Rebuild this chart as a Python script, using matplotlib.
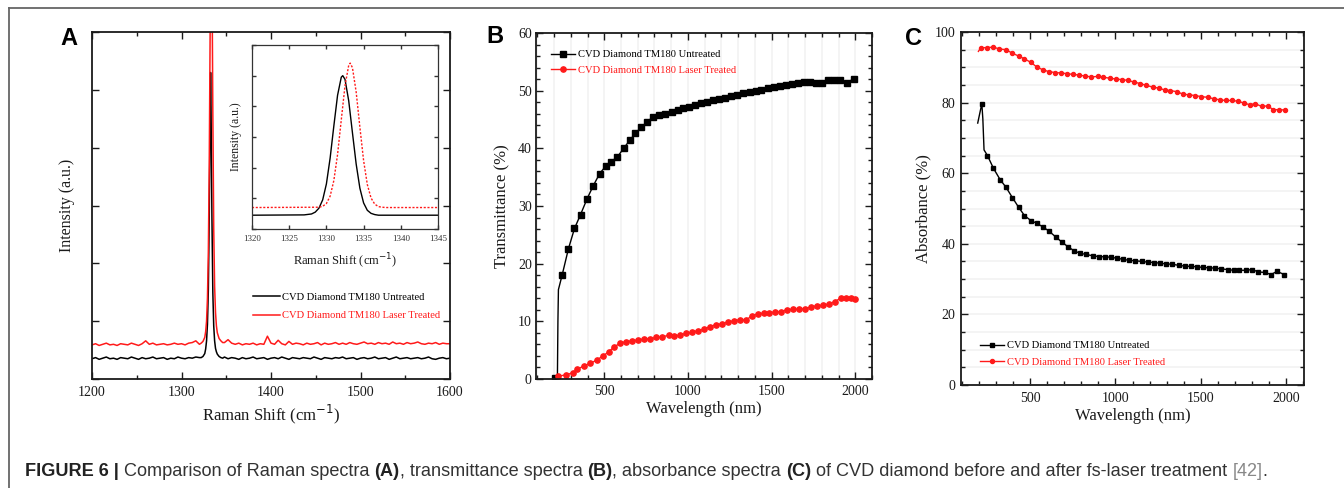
import matplotlib.pyplot as plt
import numpy as np
from matplotlib.lines import Line2D
from matplotlib.ticker import MultipleLocator, NullFormatter

W, H = 1344, 488
SERIF = 'Liberation Serif'
INK = '#1a1a1a'
RED = '#ff1a1a'

# ---------------- panel A: Raman spectra ----------------
raman_grid = np.arange(1200, 1601, 4)
raman_base_untreated = [
    0.35, 0.37, 0.34, 0.36, 0.38, 0.35, 0.36, 0.34, 0.37, 0.36,
    0.35, 0.38, 0.36, 0.34, 0.37, 0.35, 0.36, 0.38, 0.35, 0.36,
    0.37, 0.34, 0.36, 0.35, 0.38, 0.36, 0.35, 0.37, 0.36, 0.38,
    0.37, 0.36, 0.36, 0.37, 0.36, 0.36, 0.37, 0.38, 0.35, 0.37,
    0.36, 0.34, 0.37, 0.35, 0.36, 0.38, 0.35, 0.36, 0.37, 0.34,
    0.36, 0.37, 0.35, 0.38, 0.36, 0.34, 0.37, 0.36, 0.35, 0.37,
    0.36, 0.35, 0.38, 0.36, 0.34, 0.37, 0.36, 0.35, 0.37, 0.36,
    0.38, 0.35, 0.36, 0.37, 0.34, 0.36, 0.37, 0.35, 0.36, 0.38,
    0.35, 0.36, 0.37, 0.34, 0.36, 0.38, 0.35, 0.36, 0.37, 0.35,
    0.36, 0.37, 0.35, 0.36, 0.38, 0.35, 0.34, 0.36, 0.37, 0.35,
    0.36]
raman_base_treated = [
    0.59, 0.61, 0.58, 0.60, 0.62, 0.59, 0.60, 0.58, 0.61, 0.60,
    0.59, 0.62, 0.60, 0.58, 0.61, 0.66, 0.60, 0.62, 0.59, 0.60,
    0.61, 0.59, 0.60, 0.62, 0.60, 0.61, 0.59, 0.62, 0.63, 0.66,
    0.60, 0.60, 0.60, 0.60, 0.60, 0.60, 0.60, 0.63, 0.68, 0.62,
    0.60, 0.62, 0.59, 0.61, 0.60, 0.62, 0.59, 0.61, 0.60, 0.74,
    0.62, 0.60, 0.67, 0.61, 0.59, 0.65, 0.60, 0.62, 0.61, 0.59,
    0.62, 0.60, 0.61, 0.63, 0.59, 0.62, 0.60, 0.61, 0.63, 0.60,
    0.62, 0.60, 0.63, 0.61, 0.60, 0.62, 0.64, 0.61, 0.62, 0.60,
    0.63, 0.61, 0.62, 0.60, 0.64, 0.61, 0.62, 0.60, 0.63, 0.61,
    0.62, 0.64, 0.61, 0.60, 0.62, 0.61, 0.63, 0.60, 0.62, 0.61,
    0.61]
peak_x_untreated = [1322, 1324, 1326, 1327, 1328, 1329, 1330, 1331, 1332, 1332.5,
                    1333, 1334, 1335, 1336, 1337, 1338, 1339, 1340, 1342, 1344, 1346]
peak_y_untreated = [0.37, 0.39, 0.44, 0.52, 0.66, 0.95, 1.55, 2.8, 4.6, 5.3,
                    4.7, 2.8, 1.5, 0.92, 0.66, 0.53, 0.47, 0.43, 0.39, 0.37, 0.36]
peak_x_treated = [1322, 1324, 1326, 1327, 1328, 1329, 1330, 1331, 1332, 1333,
                  1333.5, 1334, 1335, 1336, 1337, 1338, 1339, 1340, 1342, 1344, 1346]
peak_y_treated = [0.62, 0.65, 0.72, 0.82, 1.0, 1.4, 2.2, 3.7, 6.0, 7.6,
                  7.8, 7.2, 4.6, 2.6, 1.6, 1.15, 0.92, 0.80, 0.70, 0.66, 0.63]

# inset (zoom on the diamond line)
inset_x_untreated = [1320, 1327, 1328, 1328.5, 1329, 1329.5, 1330, 1330.5, 1331, 1331.5,
                     1332, 1332.2, 1332.5, 1333, 1333.5, 1334, 1334.5, 1335, 1335.5,
                     1336, 1336.5, 1337, 1345]
inset_y_untreated = [0.45, 0.46, 0.49, 0.55, 0.68, 0.95, 1.47, 2.31, 3.36, 4.36,
                     4.95, 5.0, 4.88, 4.18, 3.14, 2.12, 1.33, 0.85, 0.61,
                     0.51, 0.47, 0.45, 0.45]
inset_x_treated = [1320, 1329, 1329.5, 1330, 1330.5, 1331, 1331.5, 1332, 1332.5, 1333,
                   1333.2, 1333.5, 1334, 1334.5, 1335, 1335.5, 1336, 1336.5, 1337,
                   1337.5, 1338, 1345]
inset_y_treated = [0.70, 0.71, 0.74, 0.83, 1.07, 1.58, 2.43, 3.56, 4.67, 5.34,
                   5.41, 5.26, 4.47, 3.32, 2.23, 1.45, 1.01, 0.81, 0.73,
                   0.71, 0.70, 0.70]

# ---------------- panel B: transmittance ----------------
trans_x_untreated = [208, 220, 223, 226, 248, 286, 322, 358, 398, 434, 472, 508, 542, 578,
                     616, 652, 686, 722, 758, 792, 828, 862, 902, 938, 972, 1008,
                     1044, 1078, 1116, 1152, 1188, 1222, 1260, 1296, 1332, 1368,
                     1404, 1438, 1476, 1512, 1548, 1584, 1620, 1656, 1692, 1728,
                     1764, 1802, 1838, 1872, 1908, 1952, 1992]
trans_y_untreated = [0.1, 0.4, 10.0, 15.5, 18.0, 22.6, 26.1, 28.5, 31.3, 33.5, 35.6, 36.9,
                     37.7, 38.5, 40.0, 41.4, 42.6, 43.7, 44.6, 45.5, 45.8, 45.9,
                     46.3, 46.7, 47.0, 47.2, 47.5, 47.8, 48.1, 48.4, 48.6, 48.8,
                     49.0, 49.3, 49.6, 49.8, 50.0, 50.2, 50.4, 50.6, 50.8, 51.0,
                     51.1, 51.3, 51.5, 51.5, 51.4, 51.3, 51.9, 51.8, 51.8, 51.4, 52.1]
trans_x_treated = [222, 272, 312, 340, 380, 416, 456, 492, 526, 560, 596, 630, 666,
                   702, 740, 776, 812, 846, 886, 916, 952, 986, 1022, 1060, 1096,
                   1132, 1166, 1206, 1240, 1276, 1312, 1346, 1380, 1416, 1452,
                   1486, 1520, 1556, 1592, 1626, 1662, 1700, 1736, 1772, 1806,
                   1842, 1876, 1912, 1946, 1976, 1996]
trans_y_treated = [0.5, 0.7, 1.1, 1.7, 2.3, 2.7, 3.3, 4.0, 4.7, 5.6, 6.2, 6.5, 6.6,
                   6.8, 6.9, 7.0, 7.2, 7.3, 7.6, 7.5, 7.6, 7.9, 8.1, 8.4, 8.6,
                   9.1, 9.4, 9.6, 9.9, 10.1, 10.3, 10.2, 10.9, 11.3, 11.4, 11.5,
                   11.6, 11.7, 12.0, 12.1, 12.1, 12.2, 12.5, 12.7, 12.8, 13.0,
                   13.4, 14.0, 14.1, 14.1, 13.9]

# ---------------- panel C: absorbance ----------------
abs_x_untreated = [193, 217, 223, 230, 250, 285, 324, 359, 396, 432, 467, 504, 539,
                   578, 613, 651, 686, 721, 758, 793, 828, 866, 901, 936, 975,
                   1008, 1047, 1080, 1116, 1155, 1190, 1227, 1262, 1297, 1334,
                   1370, 1405, 1442, 1477, 1512, 1549, 1584, 1620, 1657, 1692,
                   1727, 1764, 1803, 1838, 1874, 1913, 1946, 1989]
abs_y_untreated = [74.2, 79.7, 75.4, 66.6, 65.0, 61.4, 58.2, 56.0, 53.1, 50.4, 48.0,
                   46.6, 45.8, 44.7, 43.5, 41.9, 40.5, 39.2, 38.0, 37.3, 37.0,
                   36.6, 36.4, 36.3, 36.2, 35.9, 35.6, 35.3, 35.2, 35.0, 34.8,
                   34.7, 34.5, 34.3, 34.2, 33.9, 33.7, 33.6, 33.5, 33.3, 33.2,
                   33.1, 32.9, 32.7, 32.5, 32.5, 32.5, 32.7, 32.0, 31.9, 31.3,
                   32.2, 31.3]
abs_x_treated = [197, 210, 246, 285, 320, 357, 396, 432, 467, 504, 539, 574, 608,
                 647, 682, 715, 750, 788, 823, 858, 895, 930, 966, 1003, 1038,
                 1073, 1110, 1145, 1180, 1218, 1253, 1288, 1321, 1360, 1395,
                 1432, 1467, 1502, 1540, 1575, 1610, 1647, 1682, 1718, 1751,
                 1786, 1819, 1858, 1894, 1923, 1956, 1995]
abs_y_treated = [94.5, 95.5, 95.6, 95.7, 95.2, 95.0, 94.0, 93.2, 92.4, 91.4, 90.1,
                 89.3, 88.8, 88.5, 88.4, 88.2, 88.0, 87.8, 87.5, 87.3, 87.4,
                 87.2, 86.9, 86.7, 86.5, 86.3, 85.8, 85.4, 84.9, 84.4, 84.1,
                 83.6, 83.4, 83.1, 82.4, 82.2, 82.0, 81.7, 81.5, 81.1, 80.8,
                 80.6, 80.6, 80.4, 79.9, 79.4, 79.7, 78.9, 79.1, 78.0, 78.0, 77.9]

label_untreated = 'CVD Diamond TM180 Untreated'
label_treated = 'CVD Diamond TM180 Laser Treated'


def px_axes(fig, left, top, right, bottom):
    return fig.add_axes([left / W, 1 - bottom / H, (right - left) / W, (bottom - top) / H])


def style(ax, size=10, lw=1.3, major=5, minor=3, color=INK):
    for s in ax.spines.values():
        s.set_linewidth(lw)
        s.set_color(color)
    ax.tick_params(which='both', direction='in', top=True, right=True,
                   colors=color, labelsize=size, width=1.0)
    ax.tick_params(which='major', length=major)
    ax.tick_params(which='minor', length=minor)
    for t in ax.get_xticklabels() + ax.get_yticklabels():
        t.set_family(SERIF)


def merged(grid, base, px, py):
    keep = (grid < min(px)) | (grid > max(px))
    x = np.concatenate([grid[keep], px])
    y = np.concatenate([np.asarray(base)[keep], py])
    order = np.argsort(x)
    return x[order], y[order]


def legend(ax, x_px, y_px, hl, pad, spacing):
    return ax.legend(loc='center left', bbox_to_anchor=(x_px / W, 1 - y_px / H),
                     bbox_transform=ax.figure.transFigure, frameon=False,
                     prop={'family': SERIF, 'size': 7.6}, labelcolor='linecolor',
                     handlelength=hl, handletextpad=pad, labelspacing=spacing,
                     borderpad=0, borderaxespad=0)


fig = plt.figure(figsize=(W / 100, H / 100), dpi=100)

# ---- A ----
axA = px_axes(fig, 92, 32, 450, 379)
xb, yb = merged(raman_grid, raman_base_untreated, peak_x_untreated, peak_y_untreated)
xr, yr = merged(raman_grid, raman_base_treated, peak_x_treated, peak_y_treated)
axA.plot(xb, yb, color='black', lw=1.1, label=label_untreated)
axA.plot(xr, yr, color=RED, lw=1.1, label=label_treated)
axA.set_xlim(1200, 1600)
axA.set_ylim(0, 6)
axA.xaxis.set_major_locator(MultipleLocator(100))
axA.xaxis.set_minor_locator(MultipleLocator(50))
axA.yaxis.set_major_locator(MultipleLocator(1))
axA.yaxis.set_major_formatter(NullFormatter())
axA.tick_params(axis='x', pad=5)
style(axA)
axA.set_xlabel('Raman Shift (cm$^{-1}$)', family=SERIF, size=12, color=INK)
axA.xaxis.set_label_coords(0.5, -0.068)
axA.set_ylabel('Intensity (a.u.)', family=SERIF, size=11.5, color=INK)
axA.yaxis.set_label_coords(-0.047, 0.5)
legend(axA, 253, 306.5, 2.6, 0.15, 0.85)

ins = px_axes(fig, 252, 45, 438, 229)
ins.plot(inset_x_untreated, inset_y_untreated, color='black', lw=1.0)
ins.plot(inset_x_treated, inset_y_treated, color=RED, lw=1.0, ls=(0, (1.5, 1.2)))
ins.set_xlim(1320, 1345)
ins.set_ylim(0, 6)
ins.xaxis.set_major_locator(MultipleLocator(5))
ins.yaxis.set_major_locator(MultipleLocator(1))
ins.yaxis.set_major_formatter(NullFormatter())
style(ins, size=6.5, lw=0.9, major=3, minor=2, color='#333333')
ins.tick_params(axis='x', pad=4)
ins.set_xlabel('Raman Shift (cm$^{-1}$)', family=SERIF, size=9, color=INK)
ins.xaxis.set_label_coords(0.5, -0.125)
ins.set_ylabel('Intensity (a.u.)', family=SERIF, size=8.5, color=INK)
ins.yaxis.set_label_coords(-0.055, 0.5)

# ---- B ----
axB = px_axes(fig, 536, 33, 872, 379)
axB.plot(trans_x_untreated, trans_y_untreated, color='black', lw=1.0, marker='s', ms=4.4,
         markevery=[0] + list(range(4, len(trans_x_untreated))), label=label_untreated)
axB.plot(trans_x_treated, trans_y_treated, color=RED, lw=1.0, marker='o', ms=3.8,
         label=label_treated)
axB.set_xlim(92, 2100)
axB.set_ylim(0, 60)
axB.xaxis.set_major_locator(MultipleLocator(500))
axB.xaxis.set_minor_locator(MultipleLocator(100))
axB.yaxis.set_major_locator(MultipleLocator(10))
axB.yaxis.set_minor_locator(MultipleLocator(2))
axB.grid(axis='x', which='both', color='#f2f2f2', lw=1.2, zorder=0)
axB.set_axisbelow(True)
style(axB)
axB.tick_params(axis='x', pad=4)
axB.tick_params(axis='y', pad=3)
axB.set_xlabel('Wavelength (nm)', family=SERIF, size=12, color=INK)
axB.xaxis.set_label_coords(0.5, -0.064)
axB.set_ylabel('Transmittance (%)', family=SERIF, size=12, color=INK)
axB.yaxis.set_label_coords(-0.077, 0.5)
legend(axB, 551, 62.5, 2.3, 0.3, 0.6)

# ---- C ----
axC = px_axes(fig, 961, 32, 1304, 385)
axC.plot(abs_x_untreated, abs_y_untreated, color='black', lw=1.0, marker='s', ms=3.2,
         markevery=[1] + list(range(4, len(abs_x_untreated))), label=label_untreated)
axC.plot(abs_x_treated, abs_y_treated, color=RED, lw=1.0, marker='o', ms=2.9,
         markevery=list(range(1, len(abs_x_treated))), label=label_treated)
axC.set_xlim(95, 2105)
axC.set_ylim(0, 100)
axC.xaxis.set_major_locator(MultipleLocator(500))
axC.xaxis.set_minor_locator(MultipleLocator(100))
axC.yaxis.set_major_locator(MultipleLocator(20))
axC.yaxis.set_minor_locator(MultipleLocator(5))
axC.grid(axis='y', which='both', color='#f2f2f2', lw=1.2, zorder=0)
axC.set_axisbelow(True)
style(axC)
axC.tick_params(axis='x', pad=5)
axC.tick_params(axis='y', pad=4)
axC.set_xlabel('Wavelength (nm)', family=SERIF, size=12, color=INK)
axC.xaxis.set_label_coords(0.5, -0.065)
axC.set_ylabel('Absorbance (%)', family=SERIF, size=12, color=INK)
axC.yaxis.set_label_coords(-0.085, 0.5)
legend(axC, 980, 354, 2.3, 0.3, 0.7)

# ---- panel letters ----
for letter, x, y in [('A', 60, 45), ('B', 486, 43), ('C', 905, 45)]:
    fig.text(x / W, 1 - y / H, letter, family='Liberation Sans', weight='bold',
             size=17, va='baseline', ha='left', color='black')

# ---- frame lines ----
fig.add_artist(Line2D([9 / W, 9 / W], [0, 1 - 8 / H], transform=fig.transFigure,
                      color='#666666', lw=1.3))
fig.add_artist(Line2D([9 / W, 1], [1 - 8 / H, 1 - 8 / H], transform=fig.transFigure,
                      color='#666666', lw=1.3))

# ---- caption ----
caption = [('FIGURE 6 |', 'bold', '#222222'),
           (' Comparison of Raman spectra ', 'normal', '#333333'),
           ('(A)', 'bold', '#222222'),
           (', transmittance spectra ', 'normal', '#333333'),
           ('(B)', 'bold', '#222222'),
           (', absorbance spectra ', 'normal', '#333333'),
           ('(C)', 'bold', '#222222'),
           (' of CVD diamond before and after fs-laser treatment ', 'normal', '#333333'),
           ('[42]', 'normal', '#888888'),
           ('.', 'normal', '#333333')]
cap_family = ['Liberation Sans Narrow', 'Liberation Sans']


def draw_caption(size):
    renderer = fig.canvas.get_renderer()
    x = 25
    texts = []
    for s, w, c in caption:
        t = fig.text(x / W, 1 - 476 / H, s, family=cap_family, weight=w, color=c,
                     size=size, va='baseline', ha='left')
        x += t.get_window_extent(renderer).width
        texts.append(t)
    return texts, x - 25


texts, width = draw_caption(10.5)
for t in texts:
    t.remove()
draw_caption(10.5 * 1255 / width)

fig.savefig('out.png', dpi=100)
